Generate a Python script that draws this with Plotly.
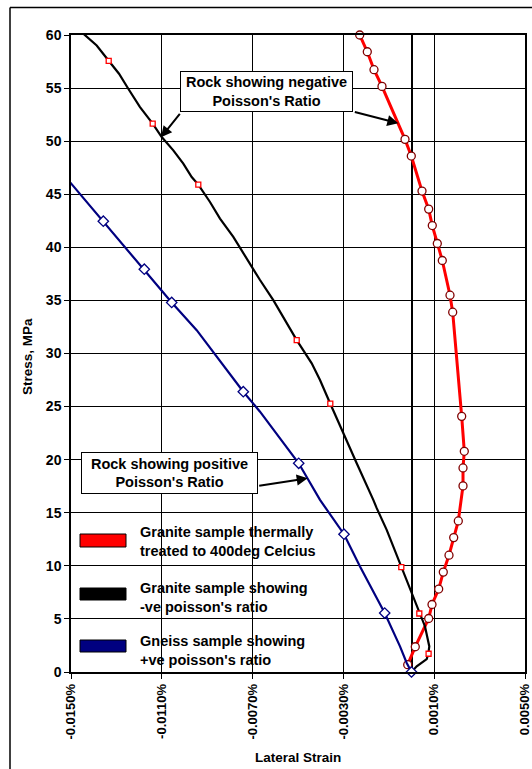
import plotly.graph_objects as go

# ---------------- data (strain in %, stress in MPa) ----------------
# Granite sample thermally treated to 400 deg Celcius (red line, circle markers)
granite_heated_strain = [-0.002282, -0.001947, -0.001652, -0.001300, -0.000286, -0.000009,
                         0.000463, 0.000757, 0.000916, 0.001137, 0.001357, 0.001696,
                         0.001815, 0.002211, 0.002326, 0.002269, 0.002269, 0.002062,
                         0.001859, 0.001652, 0.001401, 0.001198, 0.000903, 0.000757,
                         0.000167, -0.000167]
granite_heated_stress = [60.00, 58.42, 56.73, 55.16, 50.17, 48.60,
                         45.30, 43.60, 42.05, 40.36, 38.76, 35.49,
                         33.89, 24.08, 20.79, 19.22, 17.53, 14.23,
                         12.66, 11.00, 9.41, 7.81, 6.36, 5.04,
                         2.38, 0.69]

# Granite sample showing -ve poisson's ratio (black line)
granite_neg_strain = [-0.014502, -0.013868, -0.013339, -0.012885, -0.012476, -0.011960,
                      -0.011401, -0.011004, -0.010493, -0.010053, -0.009683, -0.009392,
                      -0.008877, -0.008436, -0.007850, -0.007490, -0.006674, -0.006088,
                      -0.005207, -0.005057, -0.004396, -0.004031, -0.003577, -0.003075,
                      -0.002414, -0.001683, -0.001533, -0.001093, -0.000449, -0.000066,
                      0.000344, 0.000595, 0.000784, 0.000740, 0.000670, 0.000229, 0.0]
granite_neg_stress = [60.21, 59.01, 57.57, 56.35, 54.94, 53.21,
                      51.65, 50.39, 49.13, 47.88, 46.62, 45.91,
                      44.27, 42.71, 40.98, 39.73, 36.92, 35.02,
                      31.89, 31.26, 29.07, 27.50, 25.27, 22.79,
                      19.66, 16.21, 15.43, 13.39, 9.88, 7.74,
                      5.51, 4.29, 2.41, 1.72, 1.22, 0.53, 0.0]
# measured points on the black curve (red square markers)
granite_neg_pts_strain = [-0.013339, -0.011401, -0.009392, -0.005057, -0.003577,
                          -0.000449, 0.000344, 0.000753]
granite_neg_pts_stress = [57.57, 51.65, 45.91, 31.26, 25.27, 9.88, 5.51, 1.72]

# Gneiss sample showing +ve poisson's ratio (navy line, diamond markers)
gneiss_line_strain = [-0.015150, -0.013577, -0.011771, -0.010564, -0.009463, -0.007410,
                      -0.006674, -0.004969, -0.004031, -0.002974, -0.002269, -0.001181,
                      -0.000507, -0.000211, 0.0]
gneiss_line_stress = [46.40, 42.46, 37.94, 34.81, 32.20, 26.40,
                      24.52, 19.66, 16.21, 12.98, 9.93, 5.55,
                      2.41, 0.85, 0.0]
gneiss_pts_strain = [-0.013577, -0.011771, -0.010564, -0.007410, -0.004969,
                     -0.002974, -0.001181, 0.0]
gneiss_pts_stress = [42.46, 37.94, 34.81, 26.40, 19.66, 12.98, 5.55, 0.0]

x_tick_values = [-0.015, -0.011, -0.007, -0.003, 0.001, 0.005]
x_tick_labels = ["-0.0150%", "-0.0110%", "-0.0070%", "-0.0030%", "0.0010%", "0.0050%"]
y_tick_values = [0, 5, 10, 15, 20, 25, 30, 35, 40, 45, 50, 55, 60]

legend_labels = ["Granite sample thermally<br>treated to 400deg Celcius",
                 "Granite sample showing<br>-ve poisson's ratio",
                 "Gneiss sample showing<br>+ve poisson's ratio"]
legend_colors = ["#FF0000", "#000000", "#000080"]

# ---------------- layout geometry ----------------
W, H = 532, 769
ML, MR, MT, MB = 71, 7, 35, 97
PW, PH = W - ML - MR, H - MT - MB


def px_x(px):
    return (px - ML) / PW


def px_y(py):
    return (H - MB - py) / PH


FONT = "Liberation Sans, Arial, sans-serif"

fig = go.Figure()

fig.add_trace(go.Scatter(
    x=granite_heated_strain, y=granite_heated_stress, mode="lines+markers",
    line=dict(color="#FF0000", width=3),
    marker=dict(symbol="circle", size=8, color="white", line=dict(color="#800000", width=1.3)),
    cliponaxis=False, name="Granite thermally treated"))

fig.add_trace(go.Scatter(
    x=granite_neg_strain, y=granite_neg_stress, mode="lines",
    line=dict(color="#000000", width=2.2), name="Granite -ve"))

fig.add_trace(go.Scatter(
    x=granite_neg_pts_strain, y=granite_neg_pts_stress, mode="markers",
    marker=dict(symbol="square", size=5, color="white", line=dict(color="#FF0000", width=1.3)),
    cliponaxis=False, name="Granite -ve points"))

fig.add_trace(go.Scatter(
    x=gneiss_line_strain, y=gneiss_line_stress, mode="lines",
    line=dict(color="#000080", width=2.2), name="Gneiss"))

fig.add_trace(go.Scatter(
    x=gneiss_pts_strain, y=gneiss_pts_stress, mode="markers",
    marker=dict(symbol="diamond", size=8, color="white", line=dict(color="#000080", width=1.3)),
    cliponaxis=False, name="Gneiss points"))

shapes = []
annotations = []

# outer chart border: only the left and top edges are inside the window
shapes.append(dict(type="line", xref="paper", yref="paper",
                   x0=px_x(10), x1=px_x(10), y0=px_y(H + 5), y1=px_y(7.5),
                   line=dict(color="black", width=1.5)))
shapes.append(dict(type="line", xref="paper", yref="paper",
                   x0=px_x(10), x1=px_x(W + 5), y0=px_y(7.5), y1=px_y(7.5),
                   line=dict(color="black", width=1.5)))

# manual legend
legend_rects = [(534, 547), (588, 600), (640, 652)]
legend_text_y = [541, 597, 650]
for (t, b), ty, lab, col in zip(legend_rects, legend_text_y, legend_labels, legend_colors):
    shapes.append(dict(type="rect", xref="paper", yref="paper",
                       x0=px_x(80), x1=px_x(126), y0=px_y(b), y1=px_y(t),
                       line=dict(color="black", width=1), fillcolor=col))
    annotations.append(dict(xref="paper", yref="paper", x=px_x(138), y=px_y(ty),
                            xanchor="left", yanchor="middle", align="left",
                            text=lab, showarrow=False,
                            font=dict(family=FONT, size=14.5, color="black", weight="bold")))

# callout boxes
annotations.append(dict(xref="paper", yref="paper", x=px_x(266.7), y=px_y(91.2),
                        xanchor="center", yanchor="middle", align="center",
                        text="Rock showing negative<br>Poisson's Ratio", showarrow=False,
                        width=169, height=37, borderpad=1, borderwidth=1,
                        bordercolor="black", bgcolor="white",
                        font=dict(family=FONT, size=14.5, color="black", weight="bold")))
annotations.append(dict(xref="paper", yref="paper", x=px_x(169.2), y=px_y(472.8),
                        xanchor="center", yanchor="middle", align="center",
                        text="Rock showing positive<br>Poisson's Ratio", showarrow=False,
                        width=173, height=38, borderpad=1, borderwidth=1,
                        bordercolor="black", bgcolor="white",
                        font=dict(family=FONT, size=14.5, color="black", weight="bold")))

# arrows (tip, tail) in pixels
arrows = [((161, 137.3), (181, 112.3)),
          ((398.3, 123.3), (353.3, 111.7)),
          ((307.7, 478.3), (257.7, 486))]
for (tx, ty), (sx, sy) in arrows:
    annotations.append(dict(xref="paper", yref="paper", x=px_x(tx), y=px_y(ty),
                            ax=sx - tx, ay=sy - ty, text="", showarrow=True,
                            arrowhead=2, arrowsize=1.1, arrowwidth=2, arrowcolor="black",
                            standoff=0, startstandoff=0))

# axis titles
annotations.append(dict(xref="paper", yref="paper", x=px_x(298), y=px_y(757),
                        xanchor="center", yanchor="middle", text="Lateral Strain",
                        showarrow=False,
                        font=dict(family=FONT, size=13.5, color="black", weight="bold")))
annotations.append(dict(xref="paper", yref="paper", x=px_x(27), y=px_y(357),
                        xanchor="center", yanchor="middle", text="Stress, MPa",
                        textangle=-90, showarrow=False,
                        font=dict(family=FONT, size=13.5, color="black", weight="bold")))

fig.update_layout(
    width=W, height=H, autosize=False,
    margin=dict(l=ML, r=MR, t=MT, b=MB, pad=0, autoexpand=False),
    paper_bgcolor="white", plot_bgcolor="white",
    showlegend=False,
    shapes=shapes, annotations=annotations,
    font=dict(family=FONT, color="black"),
)

fig.update_xaxes(
    range=[-0.015, 0.005], tickmode="array", tickvals=x_tick_values, ticktext=x_tick_labels,
    tickangle=-90, tickfont=dict(family=FONT, size=13, color="black", weight="bold"),
    ticks="outside", ticklen=5, tickcolor="black", tickwidth=1,
    ticklabeloverflow="allow",
    showgrid=True, gridcolor="black", gridwidth=1,
    zeroline=True, zerolinecolor="black", zerolinewidth=1.6,
    showline=True, linecolor="black", linewidth=1.5, mirror=True,
    automargin=False,
)
fig.update_yaxes(
    range=[0, 60], tickmode="array", tickvals=y_tick_values,
    tickfont=dict(family=FONT, size=14, color="black", weight="bold"),
    ticks="outside", ticklen=5, tickcolor="black", tickwidth=1,
    ticklabeloverflow="allow",
    showgrid=True, gridcolor="black", gridwidth=1,
    zeroline=False,
    showline=True, linecolor="black", linewidth=1.5, mirror=True,
    automargin=False,
)

fig.write_html("out.html", config={"displayModeBar": False},
               post_script="document.body.style.margin='0';document.body.style.overflow='hidden';")
